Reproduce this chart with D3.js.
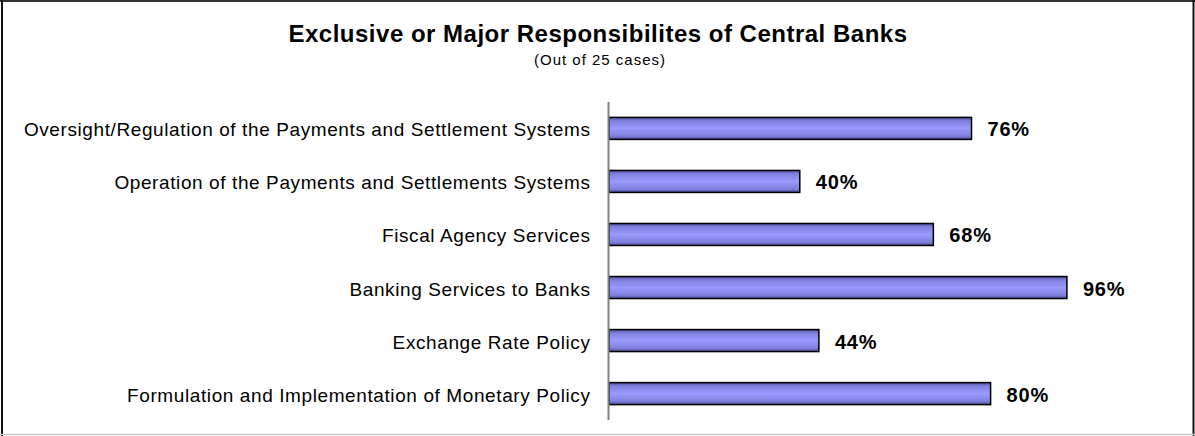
<!DOCTYPE html>
<html>
<head>
<meta charset="utf-8">
<script src="https://cdn.jsdelivr.net/npm/d3@7"></script>
<style>
  body { margin: 0; background: #fff; }
  svg { display: block; font-family: "Liberation Sans", Arial, sans-serif; }
</style>
</head>
<body>
<svg id="chart" width="1195" height="436"></svg>
<script>
// Responsibilities, top to bottom
const categories = [
  "Oversight/Regulation of the Payments and Settlement Systems",
  "Operation of the Payments and Settlements Systems",
  "Fiscal Agency Services",
  "Banking Services to Banks",
  "Exchange Rate Policy",
  "Formulation and Implementation of Monetary Policy"
];
// Share of the 25 cases, in percent
const shares = [76, 40, 68, 96, 44, 80];

const svg = d3.select("#chart");
const W = 1195, H = 436;

// Frame
svg.append("rect").attr("x", 0).attr("y", 0).attr("width", W).attr("height", H).attr("fill", "#fff");
svg.append("line").attr("x1", 0).attr("x2", W).attr("y1", 1).attr("y2", 1).attr("stroke", "#333").attr("stroke-width", 2);
svg.append("line").attr("x1", 2).attr("x2", 2).attr("y1", 0).attr("y2", H).attr("stroke", "#111").attr("stroke-width", 2);
svg.append("line").attr("x1", 1193.5).attr("x2", 1193.5).attr("y1", 0).attr("y2", H).attr("stroke", "#111").attr("stroke-width", 2);
svg.append("line").attr("x1", 0).attr("x2", W).attr("y1", 434.5).attr("y2", 434.5).attr("stroke", "#c8c8c8").attr("stroke-width", 1.5);

// Titles
svg.append("text").attr("x", 598).attr("y", 42).attr("text-anchor", "middle")
  .attr("font-size", 24).attr("font-weight", "bold").attr("letter-spacing", 0.5).attr("fill", "#000")
  .text("Exclusive or Major Responsibilites of Central Banks");
svg.append("text").attr("x", 600).attr("y", 65).attr("text-anchor", "middle")
  .attr("font-size", 15).attr("letter-spacing", 1).attr("fill", "#000")
  .text("(Out of 25 cases)");

// Scales
const x = d3.scaleLinear().domain([0, 100]).range([609, 1086]);
const y = d3.scaleBand().domain(categories).range([102, 420]).paddingInner(0.585).paddingOuter(0.29);

// Bar fill: darker edges, lighter middle
const defs = svg.append("defs");
const grad = defs.append("linearGradient").attr("id", "barFill")
  .attr("x1", 0).attr("y1", 0).attr("x2", 0).attr("y2", 1);
[[0, "#4a4a99"], [0.15, "#8080dd"], [0.5, "#9a9aff"], [0.85, "#8080dd"], [1, "#4a4a99"]]
  .forEach(([o, c]) => grad.append("stop").attr("offset", o).attr("stop-color", c));

const rows = categories.map((c, i) => ({ c, v: shares[i] }));

svg.append("g").selectAll("rect").data(rows).join("rect")
  .attr("x", x(0))
  .attr("y", d => y(d.c))
  .attr("width", d => x(d.v) - x(0))
  .attr("height", y.bandwidth())
  .attr("fill", "url(#barFill)")
  .attr("stroke", "#000")
  .attr("stroke-width", 1.5);

// Category axis (line only, no ticks)
const yAxis = d3.axisLeft(y).tickSize(0).tickPadding(18);
const ag = svg.append("g").attr("transform", `translate(${x(0) - 0.5},0)`).call(yAxis);
ag.select(".domain").attr("stroke", "#808080").attr("stroke-width", 2)
  .attr("d", `M0,102V420`);
ag.selectAll("text").attr("font-size", 19).attr("letter-spacing", 0.6).attr("fill", "#000")
  .attr("dy", "0.42em")
  .attr("font-family", '"Liberation Sans", Arial, sans-serif');

// Value labels
svg.append("g").selectAll("text").data(rows).join("text")
  .attr("x", d => x(d.v) + 16)
  .attr("y", d => y(d.c) + y.bandwidth() / 2)
  .attr("dy", "0.4em")
  .attr("font-size", 20).attr("font-weight", "bold").attr("letter-spacing", 0.8).attr("fill", "#000")
  .text(d => d.v + "%");
</script>
</body>
</html>
